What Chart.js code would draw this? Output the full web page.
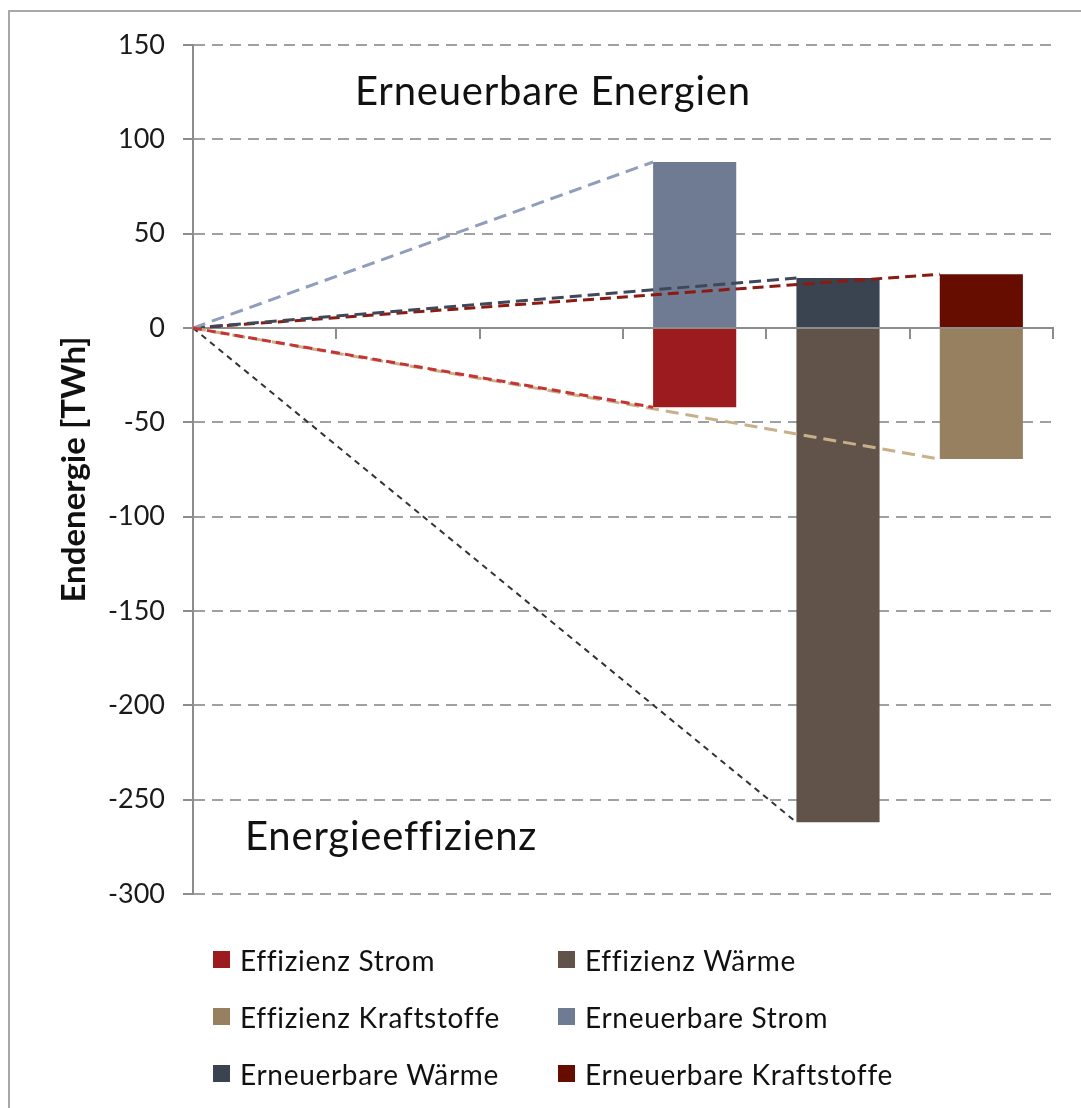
<!DOCTYPE html>
<html>
<head>
<meta charset="utf-8">
<script src="https://cdn.jsdelivr.net/npm/chart.js@4"></script>
<style>
  body { margin: 0; background: #fff; overflow: hidden; font-family: Lato, "Open Sans", sans-serif; }
  #wrap { position: relative; width: 1081px; height: 1108px; overflow: hidden; }
  #frame { position: absolute; left: 8px; top: 10px; width: 1100px; height: 1120px; border: 2px solid #a8a8a8; }
  #c { position: absolute; left: 0; top: 0; }
  .note { position: absolute; color: #111; white-space: nowrap; line-height: 1; font-size: 40px; letter-spacing: 0.8px; }
  #legend { position: absolute; left: 213px; top: 945px; display: grid; grid-template-columns: 345px 345px; row-gap: 28px; }
  .item { display: flex; align-items: center; font-size: 28px; letter-spacing: 0.7px; color: #111; height: 29px; white-space: nowrap; }
  .box { width: 17px; height: 17px; margin-right: 10px; flex: none; }
</style>
</head>
<body>
<div id="wrap">
  <div id="frame"></div>
  <canvas id="c" width="1081" height="1108"></canvas>
  <div class="note" style="left:355px; top:70px;">Erneuerbare Energien</div>
  <div class="note" style="left:245px; top:815px;">Energieeffizienz</div>
  <div id="legend"></div>
</div>
<script>
// categories on the x axis (first three are empty slots, as in the original)
const categories = ['', '', '', 'Strom', 'Wärme', 'Kraftstoffe']

// TWh per series, one value per category
const effizienzStrom        = [null, null, null, -42, null, null]
const effizienzWaerme       = [null, null, null, null, -262, null]
const effizienzKraftstoffe  = [null, null, null, null, null, -69.5]
const erneuerbareStrom      = [null, null, null, 88, null, null]
const erneuerbareWaerme     = [null, null, null, null, 26.5, null]
const erneuerbareKraftstoffe = [null, null, null, null, null, 28.5]

const seriesNames = ['Effizienz Strom', 'Effizienz Wärme', 'Effizienz Kraftstoffe',
                     'Erneuerbare Strom', 'Erneuerbare Wärme', 'Erneuerbare Kraftstoffe']
const seriesData = [effizienzStrom, effizienzWaerme, effizienzKraftstoffe,
                    erneuerbareStrom, erneuerbareWaerme, erneuerbareKraftstoffe]

const yMin = -300
const yMax = 150
const yStep = 50

const barColors  = ['#9b1b1f', '#62534a', '#97805f', '#6e7b92', '#3a4350', '#660d00']
const lineColors = ['#c63434', '#333333', '#c8b08a', '#909dbb', '#3e4858', '#8b1a12']
const lineDashes = [[9, 5], [6, 5], [13, 7], [13, 7], [12, 6], [11, 6]]

const barPct = 0.58
const font = 'Lato, "Open Sans", sans-serif'

let datasets = []

// dashed lines from the origin to the outer left corner of each bar
seriesData.forEach((arr, i) => {
  let idx = arr.findIndex(v => v !== null)
  datasets.push({
    type: 'line',
    label: seriesNames[i] + ' Linie',
    xAxisID: 'xl',
    data: [{x: 0, y: 0}, {x: idx + 0.5 - barPct / 2, y: arr[idx]}],
    borderColor: lineColors[i],
    borderWidth: i === 1 ? 2 : 3,
    borderDash: lineDashes[i],
    pointRadius: 0,
    fill: false,
    order: 0
  })
})

seriesData.forEach((arr, i) => {
  datasets.push({
    type: 'bar',
    label: seriesNames[i],
    data: arr,
    backgroundColor: barColors[i],
    grouped: false,
    barPercentage: barPct,
    categoryPercentage: 1,
    order: 1
  })
})

const chart = new Chart(document.getElementById('c'), {
  data: { labels: categories, datasets: datasets },
  options: {
    responsive: false,
    animation: false,
    devicePixelRatio: 1,
    layout: { padding: { left: 0, top: 45, right: 28, bottom: 214 } },
    plugins: { legend: { display: false }, tooltip: { enabled: false } },
    scales: {
      x: {
        type: 'category',
        position: { y: 0 },
        offset: true,
        ticks: { display: false },
        grid: { offset: true, drawOnChartArea: false, drawTicks: true, tickLength: 10, color: '#8c8c8c', lineWidth: 2 },
        border: { display: true, color: '#8c8c8c', width: 2 }
      },
      xl: { type: 'linear', min: 0, max: categories.length, display: false },
      y: {
        min: yMin,
        max: yMax,
        afterFit: (scale) => { scale.width = 193 },
        ticks: { stepSize: yStep, padding: 18, color: '#1a1a1a', font: { family: font, size: 27 } },
        grid: { color: '#a0a0a0', lineWidth: 2, tickLength: 10, tickColor: '#8c8c8c', tickBorderDash: [] },
        border: { display: true, color: '#8c8c8c', width: 2, dash: [11, 7] },
        title: { display: true, text: 'Endenergie [TWh]', color: '#111', padding: { top: 55, bottom: 0 },
                 font: { family: font, size: 33, weight: 'bold' } }
      }
    }
  }
})

// legend, two columns, built from the bar datasets
let legend = document.getElementById('legend')
chart.data.datasets.filter(d => d.type === 'bar').forEach(d => {
  let item = document.createElement('div')
  item.className = 'item'
  let box = document.createElement('span')
  box.className = 'box'
  box.style.background = d.backgroundColor
  item.append(box)
  item.append(document.createTextNode(d.label))
  legend.append(item)
})
</script>
</body>
</html>
